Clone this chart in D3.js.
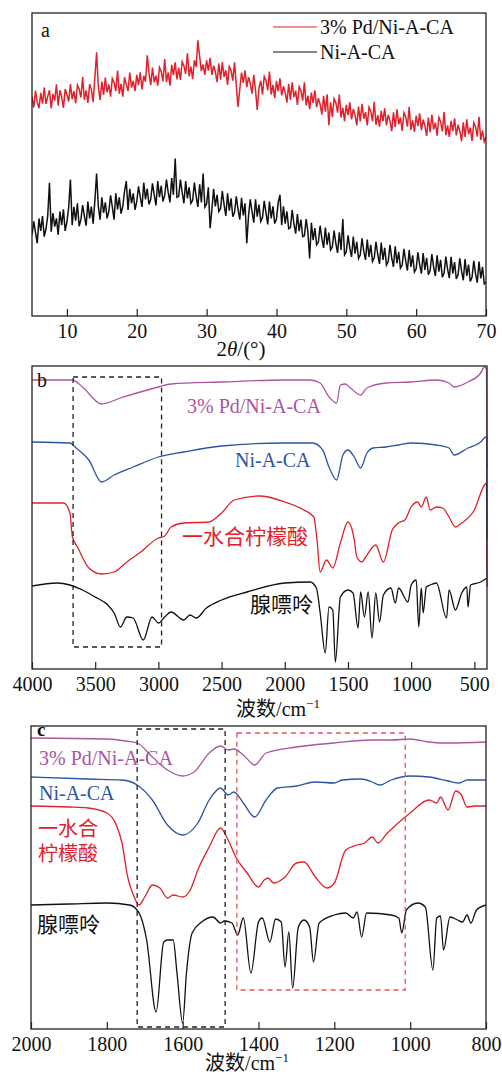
<!DOCTYPE html>
<html>
<head>
<meta charset="utf-8">
<script src="https://cdn.jsdelivr.net/npm/d3@7"></script>
<style>
  body { margin: 0; background: #fff; }
  svg { display: block; }
  .lat { font-family: "Liberation Serif", "Times New Roman", serif; }
  .cjk { font-family: "Noto Sans CJK SC", sans-serif; }
</style>
</head>
<body>
<svg></svg>
<script>
// ---------- panel a : XRD ----------
const xrdAngles = d3.range(261).map(i => 5 + i * 0.25)   // 5..70 deg, 0.25 step

const xrdPdNi = [
  725,688,743,705, 686,736,701,754, 700,725,745,685, 733,711,765,695, 745,722,687,749,
  730,708,765,716, 742,702,762,749, 721,789,713,745, 703,765,748,706, 786,870,756,713,
  774,730,787,738, 764,724,784,771, 742,810,734,766, 724,788,764,742, 803,754,776,742,
  796,762,804,748, 793,773,860,801, 762,820,771,793, 760,820,807,774, 848,772,804,760,
  829,795,837,781, 819,779,839,826, 799,867,791,823, 782,844,822,910, 857,808,830,796,
  844,810,852,796, 826,806,772,834, 780,838,789,811, 763,823,810,777, 837,761,690,749,
  803,769,811,755, 788,768,734,796, 745,680,754,776, 731,791,778,745, 807,731,763,719,
  776,742,784,728, 758,738,704,766, 713,771,722,744, 697,757,744,711, 771,695,727,683,
  737,703,745,689, 719,699,665,727, 674,732,630,705, 657,717,704,671, 731,655,687,643,
  697,663,705,649, 683,663,629,691, 642,700,651,673, 629,689,676,643, 707,631,663,625,
  677,643,685,629, 664,644,610,672, 624,682,633,655, 611,671,658,625, 690,614,646,608,
  661,627,669,613, 648,628,594,656, 607,665,616,638, 595,655,642,609, 673,597,629,591,
  644,610,652,596, 631,611,577,639, 591,649,600,622, 578,638,625,592, 657,581,613,575,
  590
]

const xrdNi = [
  268,312,275,240, 322,281,330,262, 287,330,440,278, 340,295,322,268, 345,300,352,281,
  311,358,450,300, 360,315,372,296, 318,366,330,298, 378,322,361,305, 380,470,362,318,
  392,340,375,322, 345,398,360,318, 405,352,392,338, 362,412,445,350, 420,372,405,350,
  378,428,392,360, 440,385,420,368, 385,438,400,365, 445,392,430,378, 398,450,408,375,
  455,400,520,392, 395,450,408,372, 445,388,425,372, 382,440,395,360, 435,375,470,360,
  370,425,290,350, 420,362,400,345, 355,412,368,330, 405,348,388,328, 342,395,352,318,
  390,332,372,240, 330,385,345,308, 385,328,368,312, 325,380,340,302, 378,322,362,305,
  320,375,400,300, 362,305,345,288, 292,350,305,272, 336,280,318,262, 265,320,278,190,
  308,250,290,235, 244,298,256,225, 292,235,275,218, 228,282,240,208, 276,218,320,202,
  212,266,224,195, 262,206,245,190, 202,256,214,185, 252,195,235,180, 192,245,203,172,
  242,185,225,168, 180,235,192,162, 230,174,212,158, 168,222,182,150, 218,162,200,145,
  156,210,170,140, 208,152,192,136, 150,204,162,132, 200,146,185,128, 142,196,155,125,
  195,140,178,122, 136,190,148,118, 188,132,170,114, 128,182,140,110, 180,124,162,106,
  112
]

const xrdTicks = [10, 20, 30, 40, 50, 60, 70]

// ---------- panel b : FTIR 4000-400 ----------  [wavenumber, offset transmittance]
const wideTicks = [4000, 3500, 3000, 2500, 2000, 1500, 1000, 500]

const widePdNi = [[4000,289],[3680,289],[3600,282],[3450,265],[3300,271],[3000,282],[2900,285],
  [2500,287],[2000,289],[1800,289],[1720,286],[1650,272],[1590,266],[1560,284],[1520,285],
  [1480,281],[1400,274],[1350,281],[1200,286],[1000,287],[800,289],[700,286],[660,282],
  [550,287],[450,296],[420,302],[404,300],[400,201]]

const wideNi = [[4000,227],[3700,226],[3650,221],[3550,209],[3450,187],[3350,194],[3200,202],
  [3000,212],[2800,217],[2500,223],[2000,226],[1780,226],[1700,219],[1650,202],[1590,189],
  [1540,214],[1500,219],[1450,212],[1400,201],[1350,216],[1300,221],[1200,222],[1100,224],
  [1000,226],[800,224],[700,221],[660,214],[550,221],[450,227],[410,232],[403,232],[400,129]]

const wideCitric = [[4000,166],[3750,166],[3700,156],[3680,132],[3640,122],[3550,101],[3450,95],
  [3350,97],[3250,107],[3150,116],[3000,131],[2950,133],[2900,142],[2800,146],[2600,147],
  [2500,156],[2400,169],[2200,173],[2000,167],[1850,159],[1770,152],[1745,129],[1720,97],
  [1670,109],[1620,101],[1560,126],[1500,147],[1450,129],[1430,112],[1390,107],[1360,112],
  [1280,124],[1220,107],[1150,139],[1100,146],[1050,149],[1000,162],[950,167],[920,162],
  [880,172],[850,159],[800,162],[750,161],[700,152],[650,142],[600,146],[500,159],[420,184],
  [404,186],[400,82]]

const wideAdenine = [[4000,83],[3800,86],[3700,84],[3600,79],[3500,72],[3400,64],[3350,56],
  [3300,42],[3250,52],[3200,51],[3120,29],[3050,52],[3000,46],[2950,52],[2900,57],[2800,49],
  [2750,54],[2700,51],[2620,61],[2500,69],[2300,77],[2000,86],[1800,87],[1750,81],[1720,56],
  [1680,16],[1650,62],[1620,59],[1600,7],[1560,72],[1500,79],[1460,76],[1420,41],[1400,77],
  [1370,52],[1340,77],[1310,31],[1280,76],[1250,47],[1220,74],[1160,81],[1125,66],[1100,81],
  [1025,67],[1000,84],[960,89],[940,42],[920,81],[905,56],[880,82],[850,84],[800,86],[720,51],
  [700,79],[650,59],[600,76],[560,82],[550,62],[530,84],[450,87],[400,91]]

const wideBox = [3675, 2975]

// ---------- panel c : FTIR 2000-800 ----------
const narrowTicks = [2000, 1800, 1600, 1400, 1200, 1000, 800]

const narrowPdNi = [[2000,291],[1800,290],[1750,288],[1720,286],[1680,272],[1640,259],[1600,253],
  [1570,257],[1530,276],[1500,283],[1480,279],[1465,280],[1440,274],[1410,264],[1380,276],
  [1300,282],[1200,286],[1100,289],[1050,289],[1000,290],[950,287],[920,286],[900,286],[800,287]]

const narrowNi = [[2000,252],[1850,250],[1760,249],[1720,244],[1680,229],[1640,204],[1600,194],
  [1560,206],[1530,229],[1500,241],[1480,234],[1465,237],[1440,226],[1410,212],[1380,229],
  [1350,241],[1300,243],[1250,247],[1200,246],[1180,249],[1130,250],[1100,247],[1080,244],
  [1050,249],[1000,253],[950,252],[900,248],[870,246],[850,249],[800,249]]

const narrowCitric = [[2000,223],[1900,222],[1850,221],[1800,216],[1775,204],[1760,186],[1745,152],
  [1730,134],[1715,124],[1700,132],[1680,144],[1660,141],[1640,131],[1625,134],[1600,132],
  [1580,139],[1560,159],[1530,182],[1500,201],[1480,189],[1460,172],[1430,156],[1400,142],
  [1385,149],[1375,151],[1360,146],[1330,152],[1300,166],[1280,167],[1250,152],[1220,141],
  [1200,146],[1170,179],[1140,184],[1120,186],[1100,192],[1085,186],[1060,196],[1000,216],
  [950,229],[930,226],[920,232],[900,219],[880,238],[865,234],[850,222],[830,223],[800,223]]

const narrowAdenine = [[2000,124],[1900,125],[1800,126],[1740,124],[1725,121],[1710,112],[1695,89],
  [1670,17],[1650,87],[1640,89],[1625,89],[1615,56],[1600,6],[1590,56],[1575,96],[1550,107],
  [1520,112],[1500,106],[1490,108],[1470,106],[1455,94],[1440,111],[1420,56],[1400,107],
  [1390,111],[1370,87],[1355,110],[1340,107],[1330,62],[1320,97],[1310,41],[1295,102],
  [1280,109],[1265,102],[1255,67],[1240,106],[1200,114],[1170,116],[1150,111],[1140,117],
  [1128,92],[1115,116],[1050,114],[1030,111],[1022,96],[1010,119],[980,126],[960,122],
  [940,59],[930,111],[920,113],[912,79],[895,112],[875,109],[862,107],[850,114],[840,106],
  [825,119],[800,124]]

const narrowBlackBox = [1720, 1488]
const narrowRedBox = [1457, 1013]

// ---------- drawing ----------
const colors = { red: '#e0202a', black: '#111', purple: '#a9559f', blue: '#2a55a3' }

const svg = d3.select('svg').attr('width', 502).attr('height', 1075)
svg.append('rect').attr('width', 502).attr('height', 1075).attr('fill', '#fff')

function panel(id, box, xDomain, yDomain, ticks) {
  const x = d3.scaleLinear().domain(xDomain).range([box.left, box.right])
  const y = d3.scaleLinear().domain(yDomain).range([box.bottom, box.top])
  svg.append('clipPath').attr('id', id)
    .append('rect').attr('x', box.left).attr('y', box.top - 2)
    .attr('width', box.right - box.left + 1).attr('height', box.bottom - box.top + 2)
  const g = svg.append('g')
  const plot = g.append('g').attr('clip-path', `url(#${id})`)
  const axis = g.append('g')
    .attr('transform', `translate(0,${box.bottom})`)
    .call(d3.axisBottom(x).tickValues(ticks).tickFormat(d3.format('d'))
      .tickSize(-7).tickSizeOuter(0).tickPadding(8))
  axis.select('.domain').remove()
  axis.selectAll('line').attr('stroke', '#222').attr('stroke-width', 1.2)
  axis.selectAll('text').attr('class', 'lat').attr('font-size', 20).attr('fill', '#111')
  g.append('rect')
    .attr('x', box.left).attr('y', box.top)
    .attr('width', box.right - box.left).attr('height', box.bottom - box.top)
    .attr('fill', 'none').attr('stroke', '#222').attr('stroke-width', 1.3)
  return { x, y, g, plot }
}

function label(g, txt, x, y, color, cls, size) {
  return g.append('text').attr('class', cls).attr('x', x).attr('y', y)
    .attr('font-size', size).attr('fill', color).text(txt)
}

// panel a
{
  const p = panel('clipA', { left: 32, right: 486, top: 13, bottom: 316 }, [5, 70], [0, 1000], xrdTicks)
  const line = d3.line().x((d, i) => p.x(xrdAngles[i])).y(d => p.y(d))
  p.plot.append('path').datum(xrdPdNi).attr('d', line)
    .attr('fill', 'none').attr('stroke', colors.red).attr('stroke-width', 1.5)
  p.plot.append('path').datum(xrdNi).attr('d', line)
    .attr('fill', 'none').attr('stroke', colors.black).attr('stroke-width', 1.5)

  label(p.g, 'a', 41, 37, '#111', 'lat', 20)
  const legend = [['3% Pd/Ni-A-CA', colors.red, 27], ['Ni-A-CA', colors.black, 52]]
  legend.forEach(([t, c, ly]) => {
    p.g.append('line').attr('x1', 273).attr('x2', 317).attr('y1', ly).attr('y2', ly)
      .attr('stroke', c).attr('stroke-width', 1.2)
    label(p.g, t, 320, ly + 7, '#111', 'lat', 20)
  })
  const t = p.g.append('text').attr('class', 'lat').attr('x', 241).attr('y', 356)
    .attr('font-size', 21).attr('text-anchor', 'middle').attr('fill', '#111')
  t.append('tspan').text('2')
  t.append('tspan').attr('font-style', 'italic').text('θ')
  t.append('tspan').text('/(°)')
}

function ftirTitle(g, cx, y) {
  const t = g.append('text').attr('x', cx).attr('y', y).attr('text-anchor', 'middle')
    .attr('font-size', 20).attr('fill', '#111')
  t.append('tspan').attr('class', 'cjk').text('波数')
  t.append('tspan').attr('class', 'lat').text('/cm')
  t.append('tspan').attr('class', 'lat').attr('font-size', 13).attr('dy', -8).text('−1')
}

function dashedBox(p, range, yTop, yBot, color) {
  p.g.append('rect')
    .attr('x', p.x(range[0])).attr('y', yTop)
    .attr('width', p.x(range[1]) - p.x(range[0])).attr('height', yBot - yTop)
    .attr('fill', 'none').attr('stroke', color).attr('stroke-width', 1.3)
    .attr('stroke-dasharray', '5,4')
}

// panel b
{
  const p = panel('clipB', { left: 32, right: 487, top: 366, bottom: 669 }, [4000, 400], [0, 303], wideTicks)
  const line = d3.line().x(d => p.x(d[0])).y(d => p.y(d[1])).curve(d3.curveMonotoneX)
  const series = [[wideAdenine, colors.black], [wideCitric, colors.red], [wideNi, colors.blue], [widePdNi, colors.purple]]
  series.forEach(([data, c]) => {
    p.plot.append('path').datum(data).attr('d', line)
      .attr('fill', 'none').attr('stroke', c).attr('stroke-width', 1.3)
  })
  dashedBox(p, wideBox, 377, 647, '#222')
  label(p.g, 'b', 37, 387, '#111', 'lat', 20)
  label(p.g, '3% Pd/Ni-A-CA', 187, 413, colors.purple, 'lat', 20)
  label(p.g, 'Ni-A-CA', 235, 467, colors.blue, 'lat', 20)
  label(p.g, '一水合柠檬酸', 182, 544, colors.red, 'cjk', 21)
  label(p.g, '腺嘌呤', 250, 612, '#111', 'cjk', 21)
  ftirTitle(p.g, 278, 716)
}

// panel c
{
  const p = panel('clipC', { left: 31, right: 486, top: 726, bottom: 1029 }, [2000, 800], [0, 303], narrowTicks)
  const line = d3.line().x(d => p.x(d[0])).y(d => p.y(d[1])).curve(d3.curveMonotoneX)
  const series = [[narrowAdenine, colors.black], [narrowCitric, colors.red], [narrowNi, colors.blue], [narrowPdNi, colors.purple]]
  series.forEach(([data, c]) => {
    p.plot.append('path').datum(data).attr('d', line)
      .attr('fill', 'none').attr('stroke', c).attr('stroke-width', 1.3)
  })
  label(p.g, 'c', 37, 736, '#111', 'lat', 19).attr('font-weight', 'bold')
  label(p.g, '3% Pd/Ni-A-CA', 39, 765, colors.purple, 'lat', 20)
  label(p.g, 'Ni-A-CA', 39, 800, colors.blue, 'lat', 20)
  label(p.g, '一水合', 38, 836, colors.red, 'cjk', 20)
  label(p.g, '柠檬酸', 38, 861, colors.red, 'cjk', 20)
  label(p.g, '腺嘌呤', 37, 932, '#111', 'cjk', 21)
  dashedBox(p, narrowBlackBox, 729, 1027, '#222')
  dashedBox(p, narrowRedBox, 733, 990, '#e8505a')
  ftirTitle(p.g, 247, 1070)
}
</script>
</body>
</html>
